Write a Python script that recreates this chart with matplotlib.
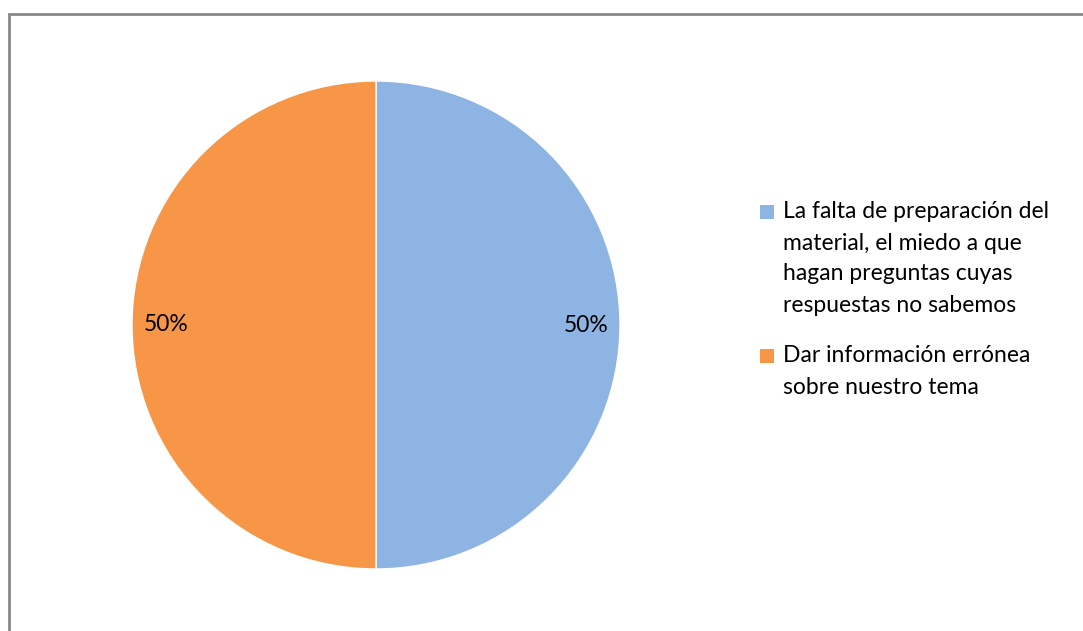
import matplotlib.pyplot as plt
from matplotlib.patches import Rectangle

labels = ["La falta de preparación del\nmaterial, el miedo a que\nhagan preguntas cuyas\nrespuestas no sabemos",
          "Dar información errónea\nsobre nuestro tema"]
values = [50, 50]
colors = ["#8EB4E3", "#F79646"]

plt.rcParams['font.family'] = ['Lato', 'DejaVu Sans']

W, H = 1083, 631
fig = plt.figure(figsize=(W / 100, H / 100), dpi=100)

# chart frame (right and bottom edges fall outside the image)
fig.patches.append(Rectangle((9 / W, -0.1), 1.2, (H - 14) / H + 0.1,
                             transform=fig.transFigure, fill=False,
                             edgecolor="#898989", linewidth=2))

# pie area: centre (376, 325), radius 244 px
ax = fig.add_axes([132 / W, (H - 569) / H, 488 / W, 488 / H])
ax.pie(values, colors=colors, startangle=90, counterclock=False,
       autopct='%1.0f%%', pctdistance=0.86,
       wedgeprops=dict(edgecolor="white", linewidth=1),
       textprops=dict(fontsize=16.5, color="#000000"))
ax.set_xlim(-1, 1)
ax.set_ylim(-1, 1)
ax.set_aspect('equal')

# legend drawn by hand: square + wrapped lines with wide spacing
line_h = 31
y = 212
for lab, col in zip(labels, colors):
    fig.patches.append(Rectangle((760 / W, (H - y - 7) / H), 14 / W, 14 / H,
                                 transform=fig.transFigure, facecolor=col,
                                 edgecolor="none"))
    for line in lab.split("\n"):
        fig.text(783 / W, (H - y) / H, line, fontsize=16.5, va="center",
                 ha="left", color="#000000")
        y += line_h
    y += 20

fig.savefig("out.png", dpi=100, facecolor="white")
